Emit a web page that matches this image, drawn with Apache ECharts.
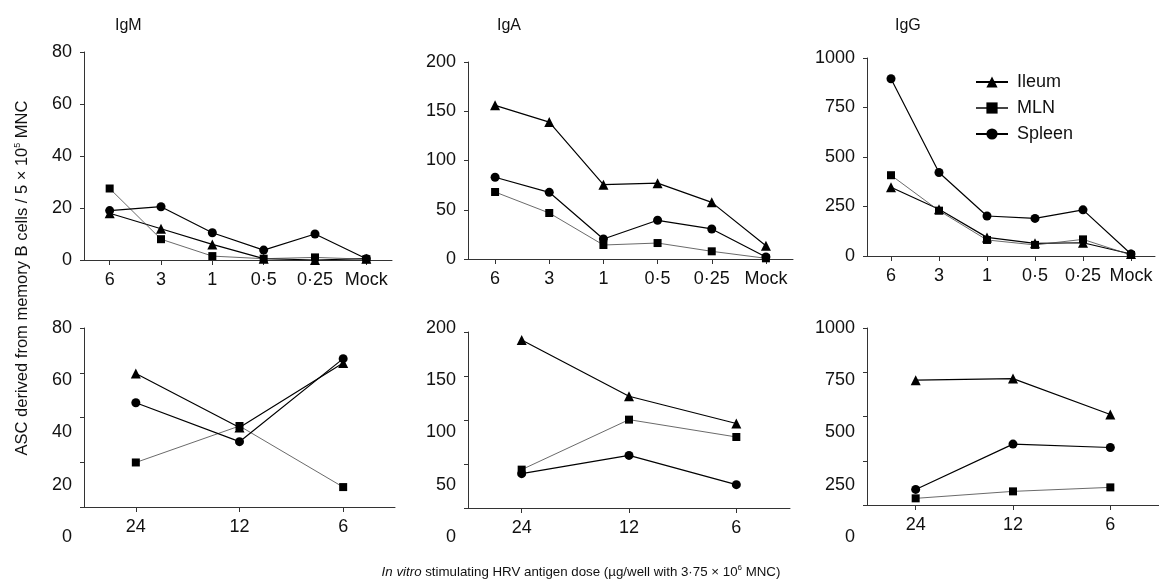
<!DOCTYPE html>
<html>
<head>
<meta charset="utf-8">
<title>HRV memory B cell ASC</title>
<script src="https://cdn.jsdelivr.net/npm/echarts@6/dist/echarts.min.js"></script>
<style>
  html, body { margin: 0; padding: 0; background: #ffffff; }
  #main { width: 1159px; height: 587px; }
</style>
</head>
<body>
<div id="main"></div>
<script>
// categories
var doseTop = ['6', '3', '1', '0·5', '0·25', 'Mock']
var doseBottom = ['24', '12', '6']
var tissues = ['Ileum', 'MLN', 'Spleen']
var panelTitles = ['IgM', 'IgA', 'IgG']

// y axis ranges per isotype
var yMax = [80, 200, 1000]
var yStep = [20, 50, 250]

// top row (x = 6 ... Mock)
var igmIleumTop = [18, 12, 6, 0.5, 0, 0.5]
var igmMlnTop = [27.5, 8, 1.5, 0.5, 1, 0.3]
var igmSpleenTop = [19, 20.5, 10.5, 3.8, 10, 0.5]

var igaIleumTop = [156, 139, 75.5, 77, 57.5, 13.5]
var igaMlnTop = [68, 46.7, 14.2, 16.2, 7.8, 0.7]
var igaSpleenTop = [83, 67.7, 20.3, 39.3, 30.5, 2]

var iggIleumTop = [347, 236, 94, 64, 67, 10]
var iggMlnTop = [408, 229, 81, 56, 84, 5]
var iggSpleenTop = [895, 422, 202, 190, 233, 10]

// bottom row (x = 24, 12, 6)
var igmIleumBottom = [59.7, 35.5, 64.4]
var igmMlnBottom = [19.9, 36.2, 8.9]
var igmSpleenBottom = [46.6, 29.2, 66.3]

var igaIleumBottom = [191, 127, 96]
var igaMlnBottom = [43.6, 100.4, 80.7]
var igaSpleenBottom = [39, 59.8, 26.5]

var iggIleumBottom = [705, 714, 511]
var iggMlnBottom = [37.6, 77, 99.6]
var iggSpleenBottom = [88, 344, 325]

var FONT = '"Liberation Sans", Arial, sans-serif'

var chart = echarts.init(document.getElementById('main'))

// grids: 0-2 top row, 3-5 bottom row, 6-8 label-only grids for the bottom row
var grids = [
  { left: 84, top: 52, width: 308, height: 208 },
  { left: 468, top: 62, width: 325, height: 197 },
  { left: 867, top: 58, width: 288, height: 198 },
  { left: 84, top: 328, width: 311, height: 179 },
  { left: 468, top: 332, width: 322, height: 176 },
  { left: 867, top: 328, width: 298, height: 177 },
  { left: 84, top: 328, width: 311, height: 209 },
  { left: 468, top: 328, width: 322, height: 209 },
  { left: 867, top: 328, width: 298, height: 209 }
]

var axisLine = { show: true, lineStyle: { color: '#333', width: 1 } }
var axisTick = { show: true, length: 4, lineStyle: { color: '#333' } }
var labelStyle = { color: '#111', fontFamily: FONT, fontSize: 18 }

var xAxes = []
var yAxes = []
for (var i = 0; i < 9; i++) {
  var isLabelGrid = i >= 6
  var iso = i % 3
  xAxes.push({
    gridIndex: i,
    type: 'category',
    data: i < 3 ? doseTop : doseBottom,
    boundaryGap: true,
    show: !isLabelGrid,
    axisLine: axisLine,
    axisTick: { show: true, length: 5, alignWithLabel: true, lineStyle: { color: '#333' } },
    axisLabel: Object.assign({ margin: 11, interval: 0 }, labelStyle),
    splitLine: { show: false }
  })
  yAxes.push({
    gridIndex: i,
    type: 'value',
    min: 0,
    max: yMax[iso],
    interval: yStep[iso],
    axisLine: isLabelGrid ? { show: false } : axisLine,
    axisTick: isLabelGrid ? { show: false } : axisTick,
    // bottom row: tick labels sit on a taller scale than the ticks (as in the original figure)
    axisLabel: (i >= 3 && i < 6) ? { show: false } : Object.assign({
      margin: 12,
      formatter: function (v) { return String(v) }
    }, labelStyle),
    splitLine: { show: false }
  })
}

var tissueStyle = {
  Ileum: { symbol: 'triangle', symbolSize: 10, color: '#000', line: '#000', width: 1.2 },
  MLN: { symbol: 'rect', symbolSize: 8, color: '#000', line: '#444', width: 0.8 },
  Spleen: { symbol: 'circle', symbolSize: 9, color: '#000', line: '#000', width: 1.2 }
}

function makeSeries (name, data, idx) {
  var s = tissueStyle[name]
  return {
    name: name,
    type: 'line',
    xAxisIndex: idx,
    yAxisIndex: idx,
    data: data,
    symbol: s.symbol,
    symbolSize: s.symbolSize,
    showAllSymbol: true,
    itemStyle: { color: s.color },
    lineStyle: { color: s.line, width: s.width },
    emphasis: { disabled: true },
    animation: false
  }
}

var panelData = [
  [igmIleumTop, igmMlnTop, igmSpleenTop],
  [igaIleumTop, igaMlnTop, igaSpleenTop],
  [iggIleumTop, iggMlnTop, iggSpleenTop],
  [igmIleumBottom, igmMlnBottom, igmSpleenBottom],
  [igaIleumBottom, igaMlnBottom, igaSpleenBottom],
  [iggIleumBottom, iggMlnBottom, iggSpleenBottom]
]

var series = []
panelData.forEach(function (p, idx) {
  tissues.forEach(function (t, k) {
    series.push(makeSeries(t, p[k], idx))
  })
})

var titleLeft = [110, 492, 890]
var titles = panelTitles.map(function (t, k) {
  return {
    text: t,
    left: titleLeft[k],
    top: 13,
    textStyle: { fontFamily: FONT, fontSize: 16, fontWeight: 'normal', color: '#111' }
  }
})

chart.setOption({
  backgroundColor: '#ffffff',
  animation: false,
  title: titles,
  grid: grids,
  xAxis: xAxes,
  yAxis: yAxes,
  legend: {
    data: tissues,
    orient: 'vertical',
    left: 970,
    top: 68,
    itemWidth: 32,
    itemHeight: 14,
    itemGap: 8,
    selectedMode: false,
    textStyle: { fontFamily: FONT, fontSize: 18, color: '#111', padding: [0, 0, 0, 4] }
  },
  graphic: [
    {
      type: 'text',
      x: 22,
      y: 278,
      rotation: Math.PI / 2,
      style: {
        text: 'ASC derived from memory B cells / 5 × 10{sup|5} MNC',
        align: 'center',
        verticalAlign: 'middle',
        fontFamily: FONT,
        fontSize: 16.5,
        fill: '#111',
        rich: {
          sup: { fontFamily: FONT, fontSize: 9, fill: '#111', padding: [0, 0, 8, 0] }
        }
      }
    },
    {
      type: 'text',
      x: 581,
      y: 572,
      style: {
        text: '{it|In vitro} stimulating HRV antigen dose (µg/well with 3·75 × 10{sup|6} MNC)',
        align: 'center',
        verticalAlign: 'middle',
        fontFamily: FONT,
        fontSize: 13.3,
        fill: '#111',
        rich: {
          it: { fontFamily: FONT, fontSize: 13.3, fontStyle: 'italic', fill: '#111' },
          sup: { fontFamily: FONT, fontSize: 8, fill: '#111', padding: [0, 0, 8, 0] }
        }
      }
    }
  ],
  series: series
})
</script>
</body>
</html>
